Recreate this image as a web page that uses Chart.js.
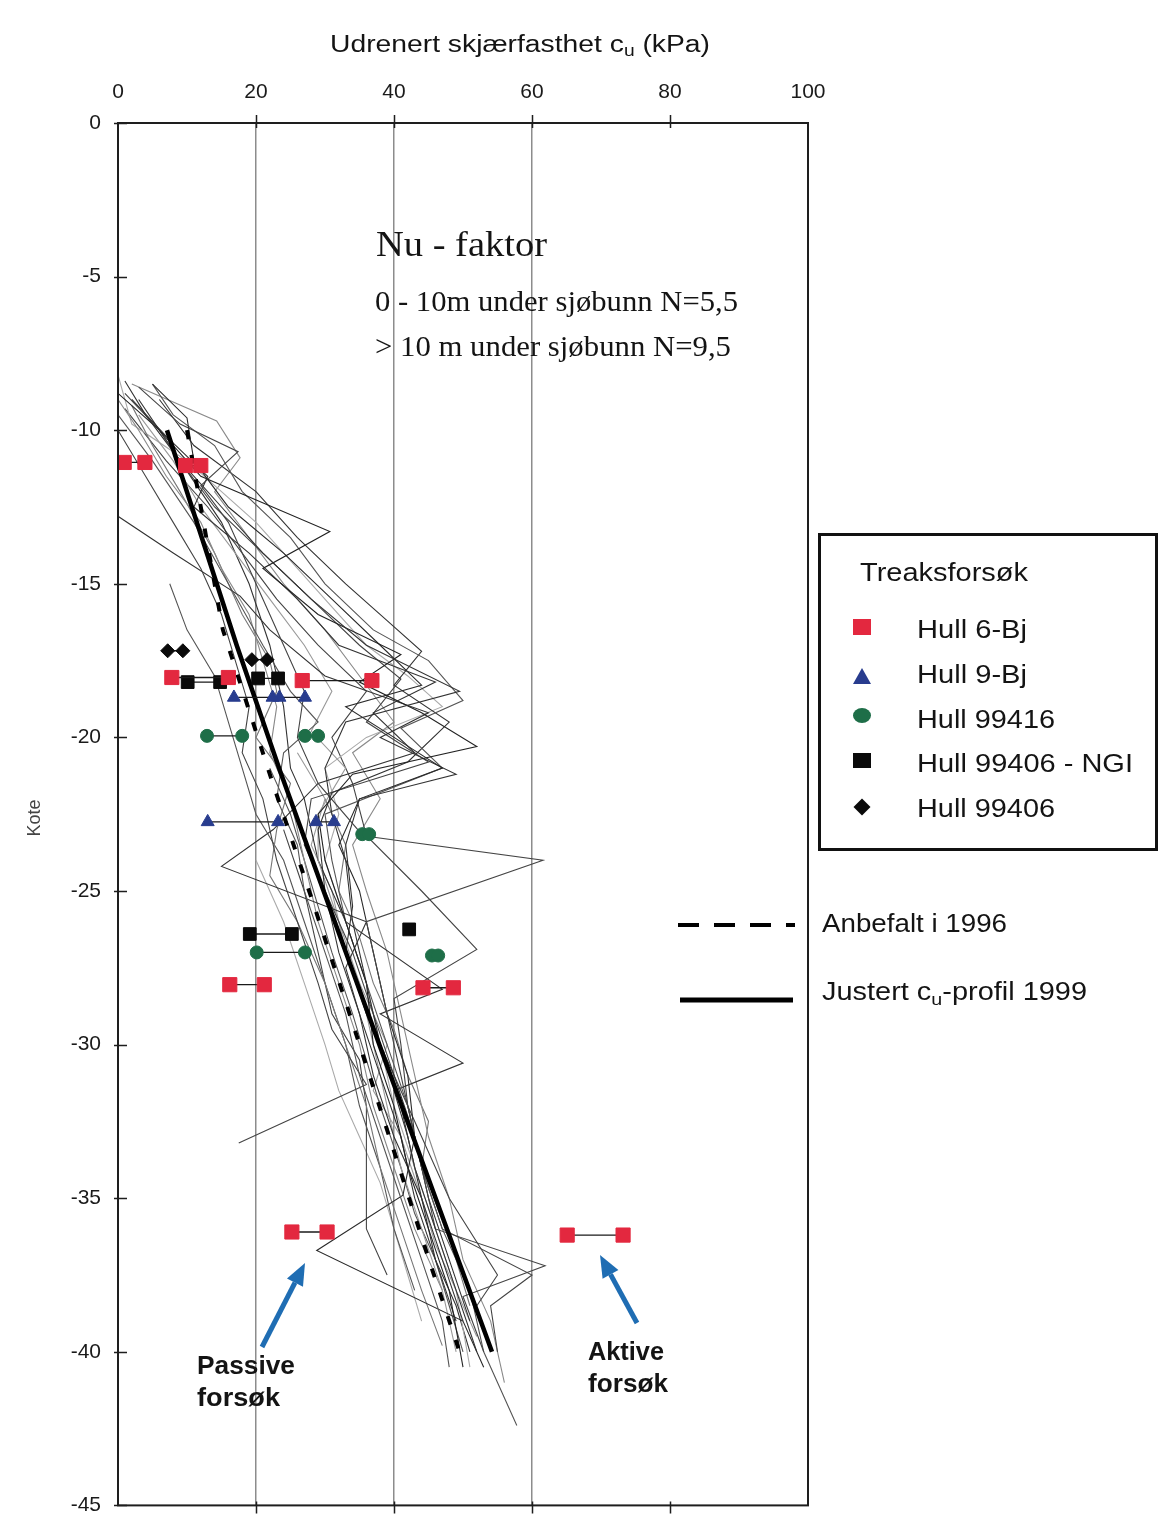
<!DOCTYPE html>
<html><head><meta charset="utf-8">
<script src="https://cdn.jsdelivr.net/npm/chart.js@4.4.1/dist/chart.umd.min.js"></script>
<style>
html,body{margin:0;padding:0;background:#fff;}
#wrap{position:relative;width:1158px;height:1535px;overflow:hidden;background:#fff;}
#c{position:absolute;left:0;top:0;}
#ov{position:absolute;left:0;top:0;pointer-events:none;}
.t{position:absolute;white-space:nowrap;line-height:1;transform-origin:0 0;color:#141414;font-family:"Liberation Sans",Arial,sans-serif;}
.serif{font-family:"Liberation Serif","Times New Roman",serif;}
.b{font-weight:bold;}
sub{font-size:0.68em;vertical-align:-0.28em;line-height:0;}
#kote{position:absolute;left:34px;top:818px;transform:translate(-50%,-50%) rotate(-90deg);font-family:"Liberation Sans",Arial,sans-serif;font-size:18px;color:#444;white-space:nowrap;line-height:1;}
#legbox{position:absolute;left:818px;top:533px;width:340px;height:318px;border:3px solid #111;box-sizing:border-box;}
.mk{position:absolute;}
</style></head><body>
<div id="wrap">
<canvas id="c" width="1158" height="1535"></canvas>
<svg id="ov" width="1158" height="1535"></svg>

<div class="t" data-x="330" data-b="52" data-fs="23" data-w="380">Udrenert skjærfasthet c<sub>u</sub> (kPa)</div>
<div id="kote">Kote</div>

<div class="t serif" data-x="376" data-b="256" data-fs="36" data-w="171">Nu - faktor</div>
<div class="t serif" data-x="375" data-b="311" data-fs="29" data-w="363">0 - 10m under sjøbunn N=5,5</div>
<div class="t serif" data-x="375" data-b="356" data-fs="29" data-w="356">&gt; 10 m under sjøbunn N=9,5</div>

<div id="legbox"></div>
<div class="t" data-x="860" data-b="581" data-fs="26" data-w="168">Treaksforsøk</div>
<div class="mk" style="left:853px;top:619px;width:18px;height:16px;background:#e3283f;"></div>
<div class="t" data-x="917" data-b="638" data-fs="25" data-w="110">Hull 6-Bj</div>
<div class="mk" style="left:853px;top:668px;width:0;height:0;border-left:9px solid transparent;border-right:9px solid transparent;border-bottom:16px solid #283c8e;"></div>
<div class="t" data-x="917" data-b="683" data-fs="25" data-w="110">Hull 9-Bj</div>
<div class="mk" style="left:853px;top:708px;width:18px;height:15px;border-radius:50%;background:#1e6e48;"></div>
<div class="t" data-x="917" data-b="728" data-fs="25" data-w="138">Hull 99416</div>
<div class="mk" style="left:853px;top:753px;width:18px;height:15px;background:#0a0a0a;"></div>
<div class="t" data-x="917" data-b="772" data-fs="25" data-w="216">Hull 99406 - NGI</div>
<div class="mk" style="left:856px;top:801px;width:12px;height:12px;background:#0a0a0a;transform:rotate(45deg);"></div>
<div class="t" data-x="917" data-b="817" data-fs="25" data-w="138">Hull 99406</div>

<div class="t" data-x="822" data-b="932" data-fs="25" data-w="185">Anbefalt i 1996</div>
<div class="t" data-x="822" data-b="1000" data-fs="25" data-w="265">Justert c<sub>u</sub>-profil 1999</div>

<div class="t b" data-x="197" data-b="1374" data-fs="25" data-w="98">Passive</div>
<div class="t b" data-x="197" data-b="1406" data-fs="25" data-w="83">forsøk</div>
<div class="t b" data-x="588" data-b="1360" data-fs="25" data-w="76">Aktive</div>
<div class="t b" data-x="588" data-b="1392" data-fs="25" data-w="80">forsøk</div>
</div>

<script>
// ---------------- DATA ----------------
const cuTicks = [0, 20, 40, 60, 80, 100];
const koteTicks = [0, -5, -10, -15, -20, -25, -30, -35, -40, -45];
const cuGrid = [20, 40, 60];

// Thin profiles (cu kPa, kote m)
const cptA = [[1,-8.4],[4,-9.5],[9,-11],[15,-12.5],[21,-14],[28,-15.5],[36,-17],[49.5,-18.5],[33,-19.5],[30,-21],[31,-22.5],[33,-24],[34,-26],[36,-28],[38,-30],[41,-32],[43,-34],[46,-36],[49,-38],[52,-40]];
const cptB = [[0,-8.8],[6,-10],[12,-11.5],[30.7,-13.3],[21,-14.5],[29,-16],[41,-17.3],[35,-18.2],[44,-19.2],[52,-20.3],[34,-21.2],[29,-22.5],[30,-24],[33,-26],[36,-28],[37,-30],[40,-32],[42,-34],[45,-36],[48,-38],[50,-40.5]];
const cptC = [[3,-8.6],[9,-9.8],[17.4,-10.7],[12,-11.8],[16,-13],[20,-15],[24,-17],[27,-18.5],[26,-20],[29,-21.5],[35.5,-23.2],[61.6,-24],[36,-26],[38,-28],[40,-30],[42,-32],[44,-34],[46,-36],[61.9,-37.2],[50,-38.2],[53,-40]];
const cptD = [[0,-9.5],[5,-11],[11,-13],[16,-15],[21,-17],[25,-18.5],[29,-19.5],[24,-20.5],[23,-22],[26,-23.5],[27,-25],[30,-27],[33,-29],[35,-31],[38,-33],[41,-35],[44,-37],[47,-39],[48,-40.5]];
const cptE = [[2,-9],[7,-10.2],[13,-11.5],[11,-12.5],[19,-14],[26,-15.5],[32,-17],[46,-18.2],[37,-19.2],[43,-20.5],[29,-21.5],[22.5,-23],[15,-24.2],[36,-26],[33,-27.5],[35,-29],[38,-31],[41,-33],[43,-35],[46,-37],[49,-39]];
const cptF = [[5,-8.5],[10,-9.6],[11,-11],[16,-12.5],[24,-14],[31,-15.5],[38,-17],[44,-18.3],[33,-19],[40,-20],[47,-21],[35,-22],[32,-23.5],[35,-25],[37,-27],[39,-29],[42,-31],[43,-33],[41.3,-34.9],[28.8,-36.7],[50,-39],[53,-40.5]];
const cptG = [[0,-10],[4,-11.5],[8,-13],[12,-14.5],[15,-16],[17,-17.5],[19,-19],[18,-20.5],[21,-22],[23,-24],[26,-26],[29,-28],[31,-29.5],[36,-31.3],[17.5,-33.2]];
const cptH = [[0,-12.8],[8,-14],[17.7,-15.4],[22,-16.5],[30,-18],[45,-19.2],[38,-20],[49,-21.2],[35,-22],[33,-23.5],[34,-25.5],[33,-27],[36,-29],[40,-31],[43,-33],[45,-35],[48,-37],[51,-39]];
const cptI = [[5,-8.5],[8,-9.5],[14,-10.5],[18,-12],[25,-13.5],[30,-15],[37,-16.5],[45,-17.5],[50,-18.8],[41,-19.7],[47,-21],[30,-22.5],[31,-24],[33,-26],[36,-28],[39,-30],[42,-32],[44,-34],[47,-36],[51,-38],[53,-40],[57.8,-42.4]];
const cptJ = [[0,-9],[3,-10],[7,-11.5],[12,-13],[15,-14.5],[19,-16],[21,-17.5],[23,-19],[22,-20.5],[25,-22],[27,-24],[29,-26],[32,-28],[35,-30],[37,-32],[40,-34],[43,-36],[47,-38]];
const cptK = [[6,-9],[11,-10.5],[20,-12],[26,-13.5],[33,-15],[39,-16.2],[44,-17.2],[40,-18.3],[48,-19.5],[42,-20.8],[31,-21.8],[29,-23],[30,-25],[32,-27],[35,-29],[37,-31],[40,-33],[44,-35],[47,-37],[50,-39]];
const cptL = [[2,-9.2],[5,-10.5],[9,-12],[14,-14],[18,-16],[22,-17.5],[23,-18.5],[20,-20],[25,-21.5],[23,-23],[22,-24.5],[26,-26],[30,-28],[33,-30],[36,-32],[38,-34],[41,-36],[44,-38],[47,-39.8]];
const cptM = [[1,-8.8],[6,-10],[9,-11],[14,-12.5],[21,-14],[28,-15.5],[35,-17],[41,-18.1],[36,-19.5],[45,-20.8],[28,-22],[27,-23.5],[30,-25],[34,-27],[37,-29],[40,-31],[44,-33],[48,-35],[55,-37.5],[52,-38.5]];
const cptN = [[3,-9.5],[8,-11],[12,-12.5],[17,-14],[22,-15.5],[27,-17],[31,-18.5],[28,-19.8],[33,-21],[29,-22.5],[29,-24],[32,-26],[35,-28],[37,-30],[39,-32],[41,-34],[44,-36],[47,-38],[49,-40]];
const cptO = [[0,-8.2],[2,-9.8],[10,-11],[15,-12],[20,-13],[26,-14.5],[32,-16],[36,-17],[42,-18],[47,-19],[36,-20],[30,-21],[32,-22.5],[30,-24],[33,-26],[36,-28],[38,-30],[40,-32],[43,-34],[46,-36],[49,-38],[51,-40.5]];
const cptP = [[3,-9],[9,-11],[15,-13],[19,-15],[22,-17],[24,-19],[25,-21],[27,-22],[29,-24],[33,-26],[47,-28.2],[38,-29],[50,-30.6],[40,-31.5],[42,-33],[44,-35],[46,-37],[49,-38.5],[51,-40]];
const cptQ = [[1,-9.3],[7,-11],[13,-12.5],[18,-14],[23,-15.5],[29,-17],[36,-18.5],[31,-20],[34,-21.5],[36,-23.2],[44,-25],[52,-26.9],[40,-28.5],[41,-30],[42,-32],[44,-34],[47,-36],[60,-37.5],[54,-38.5],[55,-40]];
const cptR = [[7.5,-15],[10,-16.5],[14,-18],[16,-19.5],[18,-21],[20,-22.5],[24,-24],[27,-26],[30,-28],[33,-30],[35,-32],[38,-34],[40,-36],[43,-38]];
const cptS = [[2,-8.5],[14.3,-9.7],[17.7,-10.9],[14,-12],[19,-13.5],[24,-15],[30,-16.5],[35,-18],[40,-19.5],[34,-20.5],[38,-22],[34,-23.5],[36,-25],[39,-27],[41,-29],[43,-31],[45,-33],[48,-35],[50,-37],[54,-39],[56,-41]];
const cptT = [[22,-21],[25,-22.5],[27,-24],[29,-25.5],[31,-27],[34,-29],[36,-30.5],[38,-32],[41,-34],[43,-35.5],[46,-37],[48,-38.5],[50,-40]];
const cptU = [[26,-20.5],[30,-22],[28,-23.5],[31,-25],[33,-27],[36,-28.5],[39,-30],[37,-31.5],[41,-33],[44,-35],[46,-36.5],[49,-38],[52,-39.5]];
const cptV = [[30,-22],[33,-23.5],[32,-25],[35,-26.5],[37,-28],[40,-29.5],[42,-31],[45,-32.5],[44,-34],[47,-35.5],[49,-37],[51,-38.5]];
const cptW = [[24,-23],[27,-25],[29,-27],[31,-29],[35,-30.5],[36,-32],[36,-34],[36,-36],[39,-37.5]];
const cptX = [[20,-24],[24,-26],[27,-28],[30,-30],[32,-31.5],[35,-33],[38,-34.5],[40,-36],[42,-37.5],[44,-39]];

// Design lines
const anbefalt1996Cu = [10, 15.2, 22.3, 28.3, 34, 40.9, 45.5, 49.5];
const anbefalt1996Kote = [-10, -16.5, -21.4, -25.4, -29.3, -34.1, -37.3, -40];
const justert1999Cu = [7.1, 17.2, 23.5, 39, 54.2];
const justert1999Kote = [-10, -17, -21.1, -30.7, -40];

// Triaxial tests: one kote per row, cu values in the row (connected)
const hull6BjKote = [-11.05, -11.15, -18.05, -18.15, -28.05, -28.15, -36.1, -36.2];
const hull6BjCu = [[0.9,3.9],[9.8,12],[7.8,16],[26.7,36.8],[16.2,21.2],[44.2,48.6],[25.2,30.3],[65.1,73.2]];
const hull9BjKote = [-18.7, -18.7, -22.75, -22.75];
const hull9BjCu = [[16.8,22.4],[23.4,27.1],[13,23.2],[28.7,31.3]];
const hull99416Kote = [-19.95, -19.95, -23.15, -27.0, -27.1];
const hull99416Cu = [[12.9,18],[27.1,29],[35.4,36.4],[20.1,27.1],[45.5,46.4]];
const hull99406NgiKote = [-18.2, -18.08, -26.4, -26.25];
const hull99406NgiCu = [[10.1,14.8],[20.3,23.2],[19.1,25.2],[42.2]];
const hull99406Kote = [-17.18, -17.47];
const hull99406Cu = [[7.2,9.4],[19.4,21.6]];

// ---------------- BUILD ----------------
const profiles = [cptA,cptB,cptC,cptD,cptE,cptF,cptG,cptH,cptI,cptJ,cptK,cptL,cptM,cptN,cptO,cptP,cptQ,cptR,cptS,cptT,cptU,cptV,cptW,cptX];
const profColors = ['#333','#222','#444','#555','#333','#2a2a2a','#444','#333','#555','#888','#333','#777','#444','#999','#aaa','#333','#444','#555','#8a8a8a','#555','#999','#777','#444','#aaa'];

const datasets = [];
profiles.forEach((p, i) => {
  datasets.push({
    data: p.map(d => ({x: d[0], y: d[1]})),
    showLine: true, borderColor: profColors[i], borderWidth: 1.1,
    pointRadius: 0, tension: 0, order: 3
  });
});
datasets.push({
  data: anbefalt1996Cu.map((v, i) => ({x: v, y: anbefalt1996Kote[i]})),
  showLine: true, borderColor: '#000', borderWidth: 4, borderDash: [9, 16],
  pointRadius: 0, order: 2
});
datasets.push({
  data: justert1999Cu.map((v, i) => ({x: v, y: justert1999Kote[i]})),
  showLine: true, borderColor: '#000', borderWidth: 4.5,
  pointRadius: 0, order: 1
});
function addTests(kotes, cus, style, radius, color) {
  kotes.forEach((k, i) => {
    datasets.push({
      data: cus[i].map(v => ({x: v, y: k})),
      showLine: cus[i].length > 1, borderColor: '#1a1a1a', borderWidth: 1.3,
      pointStyle: style, pointRadius: radius, pointBackgroundColor: color,
      pointBorderColor: color, pointBorderWidth: 1, order: 0
    });
  });
}
addTests(hull6BjKote, hull6BjCu, 'rect', 10, '#e3283f');
addTests(hull9BjKote, hull9BjCu, 'triangle', 7.5, '#283c8e');
addTests(hull99416Kote, hull99416Cu, 'circle', 6.5, '#1e6e48');
addTests(hull99406NgiKote, hull99406NgiCu, 'rect', 9, '#0a0a0a');
addTests(hull99406Kote, hull99406Cu, 'rectRot', 7, '#0a0a0a');

const framePlugin = {
  id: 'frame',
  afterDraw(chart) {
    const {ctx, chartArea: a, scales} = chart;
    ctx.save();
    ctx.strokeStyle = '#1e1e1e';
    ctx.lineWidth = 2;
    ctx.strokeRect(a.left, a.top, a.right - a.left, a.bottom - a.top);
    ctx.lineWidth = 1.5;
    ctx.beginPath();
    koteTicks.forEach(v => {
      const y = Math.round(scales.y.getPixelForValue(v)) + 0.5;
      ctx.moveTo(a.left - 4, y); ctx.lineTo(a.left + 9, y);
    });
    cuTicks.forEach(v => {
      if (v === 0 || v === 100) return;
      const x = Math.round(scales.x.getPixelForValue(v)) + 0.5;
      ctx.moveTo(x, a.top - 8); ctx.lineTo(x, a.top + 5);
      ctx.moveTo(x, a.bottom - 4); ctx.lineTo(x, a.bottom + 8);
    });
    ctx.stroke();
    ctx.restore();
  }
};

new Chart(document.getElementById('c').getContext('2d'), {
  type: 'scatter',
  data: {datasets},
  options: {
    responsive: false, animation: false, devicePixelRatio: 1,
    layout: {padding: {top: 0, left: 0, right: 350, bottom: 13}},
    plugins: {legend: {display: false}, tooltip: {enabled: false}},
    scales: {
      x: {
        type: 'linear', position: 'top', min: 0, max: 100,
        afterBuildTicks: s => { s.ticks = cuTicks.map(v => ({value: v})); },
        afterFit: s => { s.height = 123; },
        ticks: {color: '#1a1a1a', font: {family: 'Liberation Sans', size: 21}, padding: 18, maxRotation: 0, autoSkip: false},
        grid: {drawTicks: false, lineWidth: 1.5,
               color: c => (c.tick && cuGrid.includes(c.tick.value)) ? '#8c8c8c' : 'rgba(0,0,0,0)'},
        border: {display: false}
      },
      y: {
        type: 'linear', position: 'left', min: -45, max: 0,
        afterBuildTicks: s => { s.ticks = koteTicks.map(v => ({value: v})); },
        afterFit: s => { s.width = 118; },
        ticks: {color: '#1a1a1a', font: {family: 'Liberation Sans', size: 21}, padding: 17, autoSkip: false},
        grid: {drawTicks: false, drawOnChartArea: false, color: 'rgba(0,0,0,0)'},
        border: {display: false}
      }
    }
  },
  plugins: [framePlugin]
});

// ---------------- OVERLAY TEXT / SHAPES ----------------
document.querySelectorAll('.t').forEach(el => {
  const fs = +el.dataset.fs;
  el.style.fontSize = fs + 'px';
  const k = el.classList.contains('serif') ? 0.8375 : 0.8465;
  el.style.left = el.dataset.x + 'px';
  el.style.top = (el.dataset.b - k * fs) + 'px';
  const w = el.getBoundingClientRect().width;
  if (w > 0) el.style.transform = 'scaleX(' + (el.dataset.w / w) + ')';
});

const svg = document.getElementById('ov');
const NS = 'http://www.w3.org/2000/svg';
function mk(tag, attrs) { const e = document.createElementNS(NS, tag); for (const a in attrs) e.setAttribute(a, attrs[a]); svg.appendChild(e); return e; }
function arrow(tx, ty, hx, hy) {
  const dx = hx - tx, dy = hy - ty, L = Math.hypot(dx, dy), ux = dx / L, uy = dy / L;
  const hl = 22, hw = 9, bx = hx - ux * hl, by = hy - uy * hl, nx = -uy, ny = ux;
  mk('line', {x1: tx, y1: ty, x2: bx, y2: by, stroke: '#1f6db3', 'stroke-width': 5});
  mk('polygon', {points: `${hx},${hy} ${bx + nx * hw},${by + ny * hw} ${bx - nx * hw},${by - ny * hw}`, fill: '#1f6db3'});
}
arrow(262, 1347, 305, 1263);
arrow(637, 1323, 600, 1255);
mk('line', {x1: 678, y1: 925, x2: 795, y2: 925, stroke: '#000', 'stroke-width': 4, 'stroke-dasharray': '21 15'});
mk('line', {x1: 680, y1: 1000, x2: 793, y2: 1000, stroke: '#000', 'stroke-width': 5});
</script>
</body></html>
